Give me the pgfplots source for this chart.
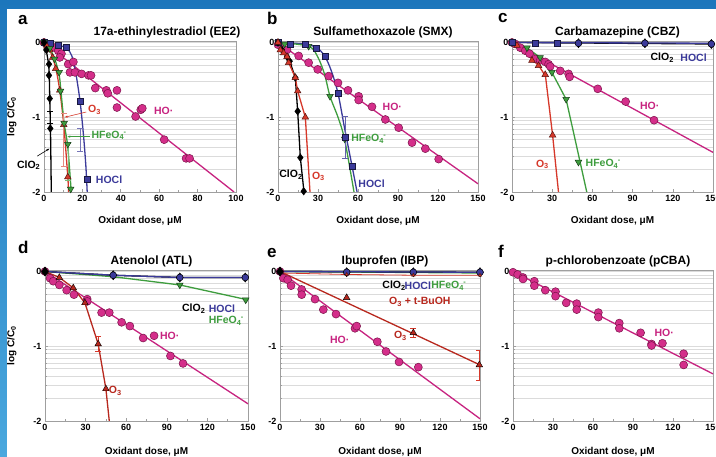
\documentclass[border=0pt]{standalone}
\usepackage{pgfplots}
\pgfplotsset{compat=1.18}
\usepackage{fontspec}
\setmainfont{Liberation Sans}
\usetikzlibrary{arrows.meta}

\definecolor{hoc}{HTML}{D42E8A}
\definecolor{hol}{HTML}{C72380}
\definecolor{hod}{HTML}{7A1349}
\definecolor{bl}{HTML}{3B3A9A}
\definecolor{gr}{HTML}{3E9D3E}
\definecolor{rd}{HTML}{D6382A}
\definecolor{rdd}{HTML}{B8281E}
\definecolor{bgtop}{HTML}{1C76BC}
\definecolor{bgbot}{HTML}{4AA8DE}

\newcommand{\clo}{ClO\textsubscript{2}}
\newcommand{\oz}{O\textsubscript{3}}
\newcommand{\fe}{HFeO\textsubscript{4}\kern-0.05em\textsuperscript{-}}

\tikzset{lab/.style={font=\bfseries\fontsize{10.5}{10.5}\selectfont, inner sep=0.5pt, anchor=west}}

\pgfplotsset{
  panel/.style={
    scale only axis, height=151pt,
    xmin=0, ymin=-2, ymax=0.02,
    clip mode=individual,
    ytick={-2,-1,0}, yticklabels={-2,-1,0},
    minor ytick={-0.0458,-0.0969,-0.1549,-0.2218,-0.3010,-0.3979,-0.5229,-0.6990,
      -1.0458,-1.0969,-1.1549,-1.2218,-1.3010,-1.3979,-1.5229,-1.6990},
    minor x tick num=1,
    ymajorgrids, yminorgrids,
    major grid style={gray!28, line width=0.6pt},
    minor grid style={gray!28, line width=0.6pt},
    axis line style={gray!75, line width=0.8pt},
    tick align=inside, xtick pos=bottom, ytick pos=left,
    major tick length=3pt, minor tick length=2pt,
    tick style={gray!75, line width=0.6pt},
    tick label style={font=\bfseries\fontsize{9}{9}\selectfont},
    /pgf/number format/assume math mode=true,
    title style={font=\bfseries\fontsize{12}{12}\selectfont, yshift=-7pt, xshift=5pt},
    xlabel={Oxidant dose, μM},
    xlabel style={font=\bfseries\fontsize{10}{10}\selectfont,
      at={(axis description cs:0.5,-0.19)}, anchor=center},
    ylabel style={font=\bfseries\fontsize{10}{10}\selectfont, anchor=center},
  },
  hoL/.style={color=hol, line width=1.3pt, no marks},
  hoM/.style={only marks, mark=*, mark size=4pt,
    mark options={fill=hoc, draw=hod, line width=0.5pt}},
  blL/.style={color=bl, line width=1.3pt, no marks},
  blM/.style={only marks, mark=square*, mark size=3pt,
    mark options={fill=bl, draw=black!60!bl, line width=0.5pt}},
  rdL/.style={color=rd, line width=1.3pt, no marks},
  rdM/.style={only marks, mark=triangle*, mark size=3.8pt,
    mark options={fill=rd, draw=black!60!rd, line width=0.5pt}},
  grL/.style={color=gr, line width=1.3pt, no marks},
  grM/.style={only marks, mark=triangle*, mark size=3.8pt,
    mark options={rotate=180, fill=gr, draw=black!60!gr, line width=0.5pt}},
  bkL/.style={color=black, line width=1.3pt, no marks},
  bkM/.style={only marks, mark=diamond*, mark size=3.8pt,
    mark options={fill=black, draw=black}},
  bcM/.style={only marks, mark=*, mark size=3.4pt,
    mark options={fill=bl, draw=black, line width=0.5pt}},
  ebar/.style={draw=none, forget plot, error bars/.cd, y dir=both, y explicit,
    error bar style={color=#1, line width=0.6pt},
    error mark options={rotate=90, mark size=3pt, color=#1, line width=0.6pt}},
}

\begin{document}
\begin{tikzpicture}[x=1pt,y=1pt]
\useasboundingbox (0,0) rectangle (716,457);
\shade[top color=bgtop, bottom color=bgbot] (0,0) rectangle (716,457);
\fill[white] (7,0) rectangle (716,448);

% ---------- a ----------
\begin{axis}[panel, at={(44pt,265pt)}, anchor=south west, width=192pt,
  xmax=100, xtick={0,20,...,100},
  title={17a-ethinylestradiol (EE2)}, title style={xshift=22pt},
  ylabel={log C/C\textsubscript{0}},
  ylabel style={at={(axis description cs:-0.167,0.5)}}]
\addplot[hoL] coordinates {(0,0) (99,-2)};
\addplot[blL, smooth] coordinates {(0,0) (8,-0.04) (12,-0.08) (14.5,-0.18) (16.5,-0.4) (18.8,-0.79) (20.6,-1.25) (21.8,-1.65) (22.5,-2)};
\addplot[rdL, smooth] coordinates {(0,0) (3,-0.1) (6,-0.33) (8.2,-0.64) (10.3,-1.1) (12.4,-1.8) (12.8,-2)};
\addplot[grL, smooth] coordinates {(0,0) (3,-0.08) (6,-0.25) (8,-0.45) (9,-0.7) (10.5,-1.08) (12.4,-1.4) (14.2,-2)};
\addplot[bkL, smooth] coordinates {(0,0) (1.5,-0.15) (2.6,-0.36) (3,-0.75) (3.4,-1.2) (3.8,-2)};
\addplot[ebar=rd!60] coordinates {(10.3,-1.3) +- (0,0.35)};
\addplot[ebar=gr!70] coordinates {(12.4,-1.6) +- (0,0.25)};
\addplot[ebar=bl!70] coordinates {(18.8,-1.3) +- (0,0.15)};
\addplot[ebar=black] coordinates {(3.3,-1.0) +- (0,0.08)};
\addplot[hoM] coordinates {(0,0) (1.2,-0.02) (3,-0.04) (5.6,-0.07) (7.4,-0.11) (9.1,-0.15) (8.2,-0.2)
  (12.6,-0.29) (15.3,-0.26) (13.5,-0.4) (16.1,-0.4) (19.6,-0.42) (23.2,-0.44) (24.5,-0.44)
  (26.7,-0.61) (32.5,-0.64) (33.2,-0.68) (38,-0.64) (38,-0.87) (47.7,-0.99) (50.4,-0.9)
  (51.2,-0.88) (62.6,-1.3) (74,-1.55) (75.8,-1.55)};
\addplot[blM] coordinates {(0,0) (3.5,-0.01) (7.4,-0.04) (11.8,-0.07) (18.8,-0.79) (22.6,-1.83)};
\addplot[rdM] coordinates {(0,0) (1.5,-0.05) (3,-0.1) (4.5,-0.2) (6.1,-0.35) (8.2,-0.64) (10.3,-1.1) (12.4,-1.8)};
\addplot[grM] coordinates {(0,0) (3,-0.08) (5.5,-0.22) (7.9,-0.4) (8.6,-0.65) (10.5,-1.08) (12.4,-1.36) (13.9,-1.96)};
\addplot[bkM] coordinates {(0,0) (1.2,-0.1) (2.6,-0.29) (2.6,-0.44) (3,-0.75) (3.3,-1.15)};
\node[lab, text=hol] at (axis cs:57,-0.92) {HO·};
\node[lab, text=bl] at (axis cs:26.7,-1.83) {HOCl};
\node[lab, text=rd] at (axis cs:22.6,-0.9) {\oz};
\node[lab, text=gr] at (axis cs:24.4,-1.24) {\fe};
\node[lab, anchor=center] at (axis cs:-8,-1.64) {\clo};
\draw[rd, line width=0.6pt, -{Stealth[length=3pt]}] (axis cs:22,-0.93) -- (axis cs:10.8,-1.0);
\draw[gr, line width=0.6pt, -{Stealth[length=3pt]}] (axis cs:23.8,-1.26) -- (axis cs:12.2,-1.26);
\draw[black, line width=0.6pt, -{Stealth[length=3pt]}] (axis cs:-3.5,-1.52) -- (axis cs:2.8,-1.42);
\end{axis}

% ---------- b ----------
\begin{axis}[panel, at={(278pt,265pt)}, anchor=south west, width=200pt,
  xmax=150, xtick={0,30,...,150},
  title={Sulfamethoxazole (SMX)}]
\addplot[hoL] coordinates {(0,0) (150,-1.89)};
\addplot[blL, smooth] coordinates {(0,0) (20,-0.02) (29,-0.07) (35,-0.18) (40,-0.38) (45,-0.68) (50.5,-1.2) (55.5,-1.65) (59.3,-2)};
\addplot[grL, smooth] coordinates {(0,0) (23,-0.05) (30,-0.2) (35,-0.43) (39,-0.72) (45,-1.0) (50,-1.3) (57,-2)};
\addplot[bkL] coordinates {(0,0) (3,-0.1) (6.75,-0.19) (8.75,-0.25) (13,-0.47) (14.75,-0.92) (16.75,-1.54) (19.5,-2)};
\addplot[rdL] coordinates {(0,0) (4,-0.13) (8,-0.27) (13,-0.47) (14.75,-0.65) (20.5,-1.0) (24,-2)};
\addplot[ebar=bl!80] coordinates {(50.5,-1.27) +- (0,0.28)};
\addplot[hoM] coordinates {(0,-0.03) (6.75,-0.1) (15.5,-0.18) (23,-0.27) (29.8,-0.36) (38,-0.45)
  (45,-0.54) (52.5,-0.64) (60.5,-0.72) (60.5,-0.77) (70.5,-0.86) (80.5,-1.03) (90.5,-1.14)
  (100.5,-1.34) (110.5,-1.42) (120.5,-1.56)};
\addplot[grM] coordinates {(0,0) (5,-0.02) (23,-0.05) (39,-0.72) (50,-1.29)};
\addplot[blM] coordinates {(0,0) (9,-0.03) (20.5,-0.03) (29,-0.08) (35.5,-0.19) (45,-0.68) (50.5,-1.27) (55.5,-1.65)};
\addplot[bkM] coordinates {(0,0) (3,-0.1) (6.75,-0.19) (8.75,-0.25) (13,-0.47) (14.75,-0.92) (16.75,-1.54) (19.25,-1.99)};
\addplot[rdM] coordinates {(0,0) (1.75,-0.1) (4.25,-0.14) (6.75,-0.19) (8,-0.27) (13,-0.47) (14.75,-0.65) (20.5,-1.0)};
\node[lab, text=hol] at (axis cs:78,-0.86) {HO·};
\node[lab, text=gr] at (axis cs:54.5,-1.29) {\fe};
\node[lab, text=bl] at (axis cs:59.8,-1.89) {HOCl};
\node[lab] at (axis cs:0.5,-1.77) {\clo};
\node[lab, text=rd] at (axis cs:25,-1.79) {\oz};
\end{axis}

% ---------- c ----------
\begin{axis}[panel, at={(512pt,265pt)}, anchor=south west, width=201pt,
  xmax=150, xtick={0,30,...,150},
  title={Carbamazepine (CBZ)}]
\addplot[bkL] coordinates {(0,0) (150,-0.02)};
\addplot[blL] coordinates {(0,0) (150,-0.01)};
\addplot[hoL] coordinates {(0,0) (150,-1.47)};
\addplot[rdL] coordinates {(0,0) (15,-0.22) (20,-0.31) (25,-0.45) (30.3,-1.24) (34.7,-2)};
\addplot[grL] coordinates {(0,0) (11,-0.07) (21,-0.2) (29.8,-0.4) (40.4,-0.76) (55.8,-2)};
\addplot[hoM] coordinates {(0,0) (2.5,-0.02) (6.2,-0.07) (9.9,-0.11) (13.1,-0.15) (17.4,-0.22)
  (21,-0.24) (24.8,-0.26) (27.3,-0.29) (28.5,-0.32) (36,-0.38) (42.2,-0.42) (43,-0.46)
  (64,-0.62) (84.8,-0.79) (106,-1.04)};
\addplot[rdM] coordinates {(0,0) (3.7,-0.04) (14.9,-0.24) (19.8,-0.31) (24.8,-0.43) (30.3,-1.24)};
\addplot[grM] coordinates {(0,0) (11.2,-0.07) (21,-0.2) (29.8,-0.4) (40.4,-0.76) (49.6,-1.6)};
\addplot[blM] coordinates {(0,0) (17.4,-0.01) (33.5,-0.01)};
\addplot[bkM, mark size=4.6pt] coordinates {(49.6,-0.01) (99.2,-0.01) (148.8,-0.02)};
\addplot[bcM] coordinates {(49.6,-0.01) (99.2,-0.01) (148.8,-0.02)};
\node[lab] at (axis cs:102.9,-0.2) {\clo};
\node[lab, text=bl] at (axis cs:125.2,-0.2) {HOCl};
\node[lab, text=hol] at (axis cs:95,-0.85) {HO·};
\node[lab, text=rd] at (axis cs:17.4,-1.63) {\oz};
\node[lab, text=gr] at (axis cs:54.5,-1.62) {\fe};
\end{axis}

% ---------- d ----------
\begin{axis}[panel, at={(45pt,36pt)}, anchor=south west, width=203pt,
  xmax=150, xtick={0,30,...,150},
  title={Atenolol (ATL)},
  xlabel style={at={(axis description cs:0.5,-0.205)}},
  ylabel={log C/C\textsubscript{0}},
  ylabel style={at={(axis description cs:-0.163,0.5)}}]
\addplot[hoL] coordinates {(0,0) (150,-1.77)};
\addplot[grL] coordinates {(0,0) (50.4,-0.07) (99.6,-0.18) (150,-0.38)};
\addplot[bkL] coordinates {(0,0) (50.4,-0.05) (99.6,-0.08) (150,-0.08)};
\addplot[blL] coordinates {(0,0) (50.4,-0.05) (99.6,-0.08) (150,-0.08)};
\addplot[color=rdd, line width=1.3pt] coordinates {(0,0) (10.6,-0.08) (20.9,-0.22) (29.5,-0.42) (39.3,-0.97) (45,-1.57) (47.5,-2)};
\addplot[ebar=rd] coordinates {(39.3,-0.97) +- (0,0.1)};
\addplot[hoM] coordinates {(0,0) (3.7,-0.09) (6.1,-0.13) (10.6,-0.18) (16,-0.25) (21.4,-0.31)
  (31.2,-0.37) (31.2,-0.4) (41.8,-0.55) (47.5,-0.55) (56.6,-0.68) (62.7,-0.73) (72.5,-0.89)
  (80.6,-0.86) (92.7,-1.13) (102,-1.23)};
\addplot[rdM, mark options={fill=rdd}] coordinates {(0,0) (10.6,-0.08) (20.9,-0.22) (29.5,-0.42) (39.3,-0.97) (45,-1.57)};
\addplot[grM] coordinates {(99.6,-0.18) (148.3,-0.38)};
\addplot[bkM, mark size=4.6pt] coordinates {(0,0) (50.4,-0.05) (99.6,-0.08) (148,-0.08)};
\addplot[bcM] coordinates {(50.4,-0.05) (99.6,-0.08) (148,-0.08)};
\node[lab] at (axis cs:100.8,-0.5) {\clo};
\node[lab, text=bl] at (axis cs:120.5,-0.5) {HOCl};
\node[lab, text=gr] at (axis cs:120.5,-0.66) {\fe};
\node[lab, text=hol] at (axis cs:84.5,-0.86) {HO·};
\node[lab, text=rdd] at (axis cs:46.7,-1.6) {\oz};
\end{axis}

% ---------- e ----------
\begin{axis}[panel, at={(280pt,36pt)}, anchor=south west, width=200pt,
  xmax=150, xtick={0,30,...,150},
  title={Ibuprofen (IBP)},
  xlabel style={at={(axis description cs:0.5,-0.205)}}]
\addplot[hoL] coordinates {(0,0) (150,-1.97)};
\addplot[color=rdd, line width=1.3pt] coordinates {(0,0) (150,-1.25)};
\addplot[color=rd, line width=0.8pt] coordinates {(0,-0.02) (50,-0.04) (100,-0.05) (150,-0.05)};
\addplot[grL] coordinates {(0,0) (150,-0.02)};
\addplot[bkL] coordinates {(0,0) (150,-0.01)};
\addplot[blL] coordinates {(0,0) (150,-0.01)};
\addplot[ebar=rd] coordinates {(100,-0.82) +- (0,0.06) (149.5,-1.25) +- (0,0.2)};
\addplot[hoM] coordinates {(0,0) (2.5,-0.09) (5.75,-0.11) (8.25,-0.19) (16.25,-0.24) (16.25,-0.31)
  (26.25,-0.37) (32.5,-0.51) (42,-0.57) (56.25,-0.76) (57.5,-0.73) (73,-0.94) (79.5,-1.07)
  (89.25,-1.21) (103.75,-1.28)};
\addplot[rdM, mark options={fill=rdd}] coordinates {(0,0) (50,-0.35) (100,-0.82) (149.5,-1.25)};
\addplot[bkM, mark size=4.6pt] coordinates {(0,0) (50,-0.01) (100,-0.01) (150,-0.01)};
\addplot[bcM] coordinates {(50,-0.01) (100,-0.01) (150,-0.01)};
\addplot[rdM, mark size=2pt] coordinates {(50,-0.04) (100,-0.05) (150,-0.05)};
\node[lab] at (axis cs:76.3,-0.19) {\clo};
\node[lab, text=bl] at (axis cs:93,-0.19) {HOCl};
\node[lab, text=gr] at (axis cs:113,-0.19) {\fe};
\node[lab, text=rdd] at (axis cs:81.3,-0.41) {\oz{} + t-BuOH};
\node[lab, text=rdd] at (axis cs:85,-0.86) {\oz};
\node[lab, text=hol] at (axis cs:37,-0.91) {HO·};
\end{axis}

% ---------- f ----------
\begin{axis}[panel, at={(513pt,36pt)}, anchor=south west, width=200pt,
  xmax=150, xtick={0,30,...,150},
  title={p-chlorobenzoate (pCBA)},
  xlabel style={at={(axis description cs:0.5,-0.205)}}]
\addplot[hoL] coordinates {(0,0) (150,-1.37)};
\addplot[hoM] coordinates {(0,-0.01) (3.5,-0.04) (7.5,-0.08) (7.5,-0.1) (16,-0.13) (16,-0.19)
  (24.2,-0.25) (31.9,-0.27) (31.9,-0.33) (39.9,-0.42) (47.8,-0.43) (47.8,-0.51) (64,-0.55)
  (64,-0.61) (79.7,-0.69) (79.7,-0.76) (95.7,-0.82) (103.9,-0.97) (103.9,-0.99) (112.1,-0.96)
  (128,-1.1) (128,-1.25)};
\node[lab, text=hol] at (axis cs:105.7,-0.82) {HO·};
\end{axis}

\begin{scope}[font=\bfseries\fontsize{17}{17}\selectfont]
\node[anchor=base west, inner sep=0] at (18,432) {a};
\node[anchor=base west, inner sep=0] at (267,432) {b};
\node[anchor=base west, inner sep=0] at (498,434) {c};
\node[anchor=base west, inner sep=0] at (18,203) {d};
\node[anchor=base west, inner sep=0] at (267,199) {e};
\node[anchor=base west, inner sep=0] at (498,199) {f};
\end{scope}
\end{tikzpicture}
\end{document}
